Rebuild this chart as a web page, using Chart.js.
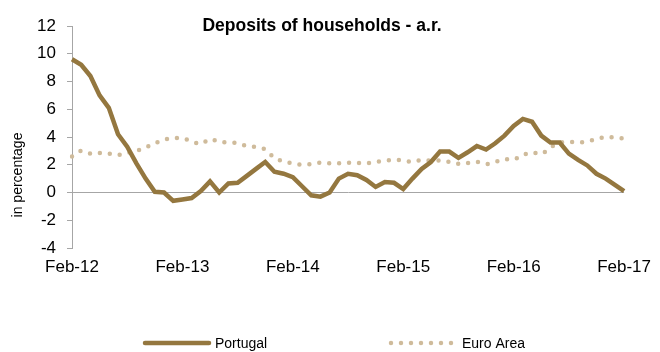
<!DOCTYPE html>
<html>
<head>
<meta charset="utf-8">
<script src="https://cdn.jsdelivr.net/npm/chart.js@4"></script>
<style>
  html, body { margin: 0; padding: 0; background: #fff; }
  #wrap { width: 660px; height: 352px; position: relative; }
</style>
</head>
<body>
<div id="wrap"><canvas id="chart" width="660" height="352"></canvas></div>
<script>
// monthly, Feb-12 .. Feb-17
const tickLabels = ["Feb-12", "Feb-13", "Feb-14", "Feb-15", "Feb-16", "Feb-17"];
const portugal = [
    9.6, 9.2, 8.4, 7.0, 6.1, 4.2, 3.3, 2.1, 1.0, 0.05, 0.0, -0.6,
    -0.5, -0.4, 0.1, 0.8, 0.0, 0.65, 0.7, 1.2, 1.7, 2.2, 1.5, 1.35,
    1.1, 0.45, -0.2, -0.3, 0.0, 1.0, 1.35, 1.25, 0.9, 0.4, 0.75, 0.7,
    0.25, 1.0, 1.7, 2.2, 2.95, 2.95, 2.5, 2.9, 3.35, 3.1, 3.55, 4.1,
    4.8, 5.3, 5.1, 4.1, 3.6, 3.6, 2.8, 2.35, 1.95, 1.35, 1.0, 0.55,
    0.1
];
const euroArea = [
    2.6, 3.0, 2.8, 2.85, 2.8, 2.7, 2.85, 3.0, 3.25, 3.55, 3.8, 3.93,
    3.9, 3.7, 3.5, 3.85, 3.65, 3.6, 3.55, 3.35, 3.28, 3.1, 2.5, 2.25,
    2.1, 2.0, 2.05, 2.15, 2.1, 2.1, 2.15, 2.13, 2.1, 2.2, 2.3, 2.35,
    2.33, 2.2, 2.35, 2.3, 2.3, 2.2, 2.07, 2.12, 2.2, 2.05, 2.2, 2.4,
    2.37, 2.7, 2.9, 2.78, 3.25, 3.58, 3.65, 3.6, 3.68, 3.85, 4.0, 3.95,
    3.9
];

const monthNames = ["Jan", "Feb", "Mar", "Apr", "May", "Jun", "Jul", "Aug", "Sep", "Oct", "Nov", "Dec"];
const labels = portugal.map((v, i) => {
    const m = (1 + i) % 12;
    const y = 12 + Math.floor((1 + i) / 12);
    return monthNames[m] + "-" + y;
});

const brown = "#94773f";
const tan = "#cfbb9b";
const axisGrey = "#a6a6a6";
const font = "'Liberation Sans', Arial, sans-serif";

const extras = {
    id: "extras",
    afterDraw(chart) {
        const ctx = chart.ctx;
        ctx.save();
        // title
        ctx.fillStyle = "#000";
        ctx.font = "bold 17.5px " + font;
        ctx.textAlign = "center";
        ctx.textBaseline = "middle";
        ctx.fillText("Deposits of households - a.r.", 322, 26);

        // y axis title
        ctx.save();
        ctx.translate(18, 175);
        ctx.rotate(-Math.PI / 2);
        ctx.font = "14px " + font;
        ctx.fillText("in percentage", 0, 0);
        ctx.restore();

        // legend
        const ds = chart.data.datasets;
        const y = 343;
        ctx.lineCap = "round";
        ctx.strokeStyle = ds[0].borderColor;
        ctx.lineWidth = ds[0].borderWidth;
        ctx.beginPath(); ctx.moveTo(145, y); ctx.lineTo(209, y); ctx.stroke();
        ctx.strokeStyle = ds[1].borderColor;
        ctx.lineWidth = ds[1].borderWidth;
        ctx.setLineDash(ds[1].borderDash);
        ctx.beginPath(); ctx.moveTo(391, y); ctx.lineTo(455, y); ctx.stroke();
        ctx.setLineDash([]);
        ctx.fillStyle = "#000";
        ctx.font = "14px " + font;
        ctx.textAlign = "left";
        ctx.fillText(ds[0].label, 215, y + 1);
        ctx.fillText(ds[1].label, 462, y + 1);
        ctx.restore();
    }
};

new Chart(document.getElementById("chart"), {
    type: "line",
    data: {
        labels: labels,
        datasets: [
            {
                label: "Portugal",
                data: portugal,
                borderColor: brown,
                borderWidth: 4.5,
                pointRadius: 0,
                tension: 0,
                fill: false,
                order: 1
            },
            {
                label: "Euro Area",
                data: euroArea,
                borderColor: tan,
                borderWidth: 4.5,
                borderDash: [0, 10],
                borderCapStyle: "round",
                pointRadius: 0,
                tension: 0.3,
                fill: false,
                order: 2
            }
        ]
    },
    options: {
        responsive: false,
        animation: false,
        layout: { padding: { top: 26, right: 30, left: 0, bottom: 0 } },
        plugins: {
            legend: { display: false },
            title: { display: false },
            tooltip: { enabled: false }
        },
        scales: {
            x: {
                offset: false,
                grid: { display: false, drawTicks: false },
                border: { display: false },
                ticks: {
                    autoSkip: false,
                    maxRotation: 0,
                    padding: 9,
                    color: "#000",
                    font: { family: font, size: 17 },
                    callback: function (val) {
                        const l = this.getLabelForValue(val);
                        return tickLabels.includes(l) ? l : "";
                    }
                },
                afterFit: s => { s.height = 104; }
            },
            y: {
                min: -4,
                max: 12,
                ticks: {
                    stepSize: 2,
                    padding: 11,
                    color: "#000",
                    font: { family: font, size: 17 }
                },
                grid: {
                    color: c => c.tick && c.tick.value === 0 ? axisGrey : "rgba(0,0,0,0)",
                    tickColor: axisGrey,
                    tickLength: 5,
                    lineWidth: 1
                },
                border: { color: axisGrey, width: 1 },
                afterFit: s => { s.width = 72; }
            }
        }
    },
    plugins: [extras]
});
</script>
</body>
</html>
